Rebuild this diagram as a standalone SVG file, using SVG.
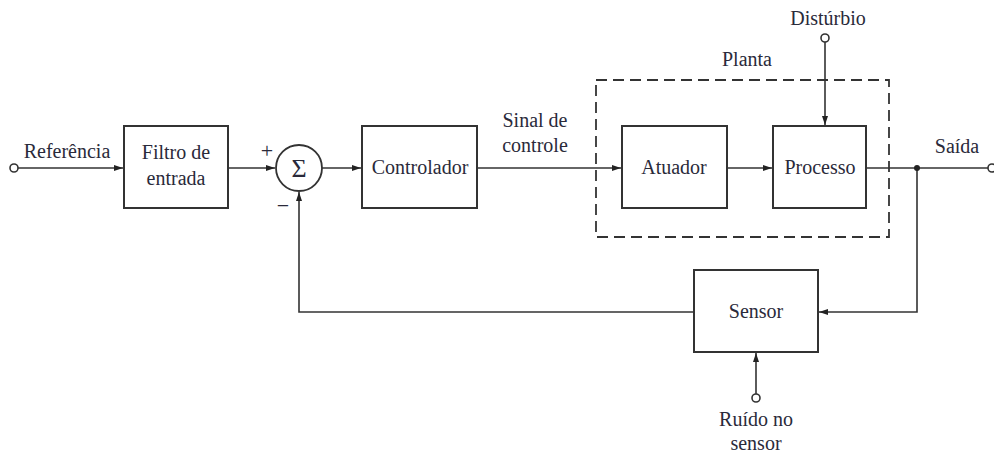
<svg xmlns="http://www.w3.org/2000/svg" width="994" height="455" viewBox="0 0 994 455">
<defs>
<marker id="arr" markerWidth="10" markerHeight="8" refX="9" refY="4" orient="auto" markerUnits="userSpaceOnUse">
<path d="M0,1 L9,4 L0,7 Z" fill="#222"/>
</marker>
<style>
.box{fill:#fff;stroke:#333;stroke-width:2}
.ln{fill:none;stroke:#333;stroke-width:1.6}
.t{font-family:"Liberation Serif","Times New Roman",serif;font-size:20px;fill:#2a2a3a;text-anchor:middle}
.term{fill:#fff;stroke:#333;stroke-width:1.6}
</style>
</defs>
<rect width="994" height="455" fill="#fff"/>
<g id="planta">
<rect x="596" y="80" width="293" height="157" fill="none" stroke="#333" stroke-width="1.8" stroke-dasharray="11,6"/>
<text class="t" x="747" y="66">Planta</text>
</g>
<g id="connectors">
<path class="ln" d="M18,168 H123" marker-end="url(#arr)"/>
<path class="ln" d="M228,168 H275" marker-end="url(#arr)"/>
<path class="ln" d="M322,168 H361" marker-end="url(#arr)"/>
<path class="ln" d="M477,168 H621" marker-end="url(#arr)"/>
<path class="ln" d="M727,168 H772" marker-end="url(#arr)"/>
<path class="ln" d="M866,168 H988"/>
<path class="ln" d="M825,42 V125" marker-end="url(#arr)"/>
<path class="ln" d="M917,168 V312 H819" marker-end="url(#arr)"/>
<path class="ln" d="M694,312 H299 V192" marker-end="url(#arr)"/>
<path class="ln" d="M756,394 V353" marker-end="url(#arr)"/>
<circle cx="917" cy="168" r="3" fill="#222"/>
</g>
<g id="referencia">
<circle class="term" cx="14" cy="168" r="4"/>
<text class="t" x="67" y="158">Referência</text>
</g>
<g id="filtro">
<rect class="box" x="124" y="126" width="104" height="82"/>
<text class="t" x="176" y="159">Filtro de</text>
<text class="t" x="176" y="185">entrada</text>
</g>
<g id="somador">
<circle cx="299" cy="168" r="23" fill="#fff" stroke="#333" stroke-width="1.8"/>
<text class="t" x="299" y="177" style="font-size:26px">Σ</text>
<text class="t" x="267" y="158" style="font-size:22px">+</text>
<text class="t" x="283" y="213" style="font-size:22px">−</text>
</g>
<g id="controlador">
<rect class="box" x="362" y="126" width="115" height="82"/>
<text class="t" x="420" y="174">Controlador</text>
</g>
<g id="sinal">
<text class="t" x="535" y="127">Sinal de</text>
<text class="t" x="535" y="152">controle</text>
</g>
<g id="atuador">
<rect class="box" x="622" y="126" width="105" height="82"/>
<text class="t" x="674" y="174">Atuador</text>
</g>
<g id="processo">
<rect class="box" x="773" y="126" width="93" height="82"/>
<text class="t" x="820" y="174">Processo</text>
</g>
<g id="disturbio">
<circle class="term" cx="825" cy="38" r="4"/>
<text class="t" x="828" y="25">Distúrbio</text>
</g>
<g id="saida">
<circle class="term" cx="992" cy="168" r="4"/>
<text class="t" x="957" y="153">Saída</text>
</g>
<g id="sensor">
<rect class="box" x="694" y="270" width="124" height="82"/>
<text class="t" x="756" y="318">Sensor</text>
</g>
<g id="ruido">
<circle class="term" cx="756" cy="398" r="4"/>
<text class="t" x="756" y="426">Ruído no</text>
<text class="t" x="756" y="450">sensor</text>
</g>
</svg>
